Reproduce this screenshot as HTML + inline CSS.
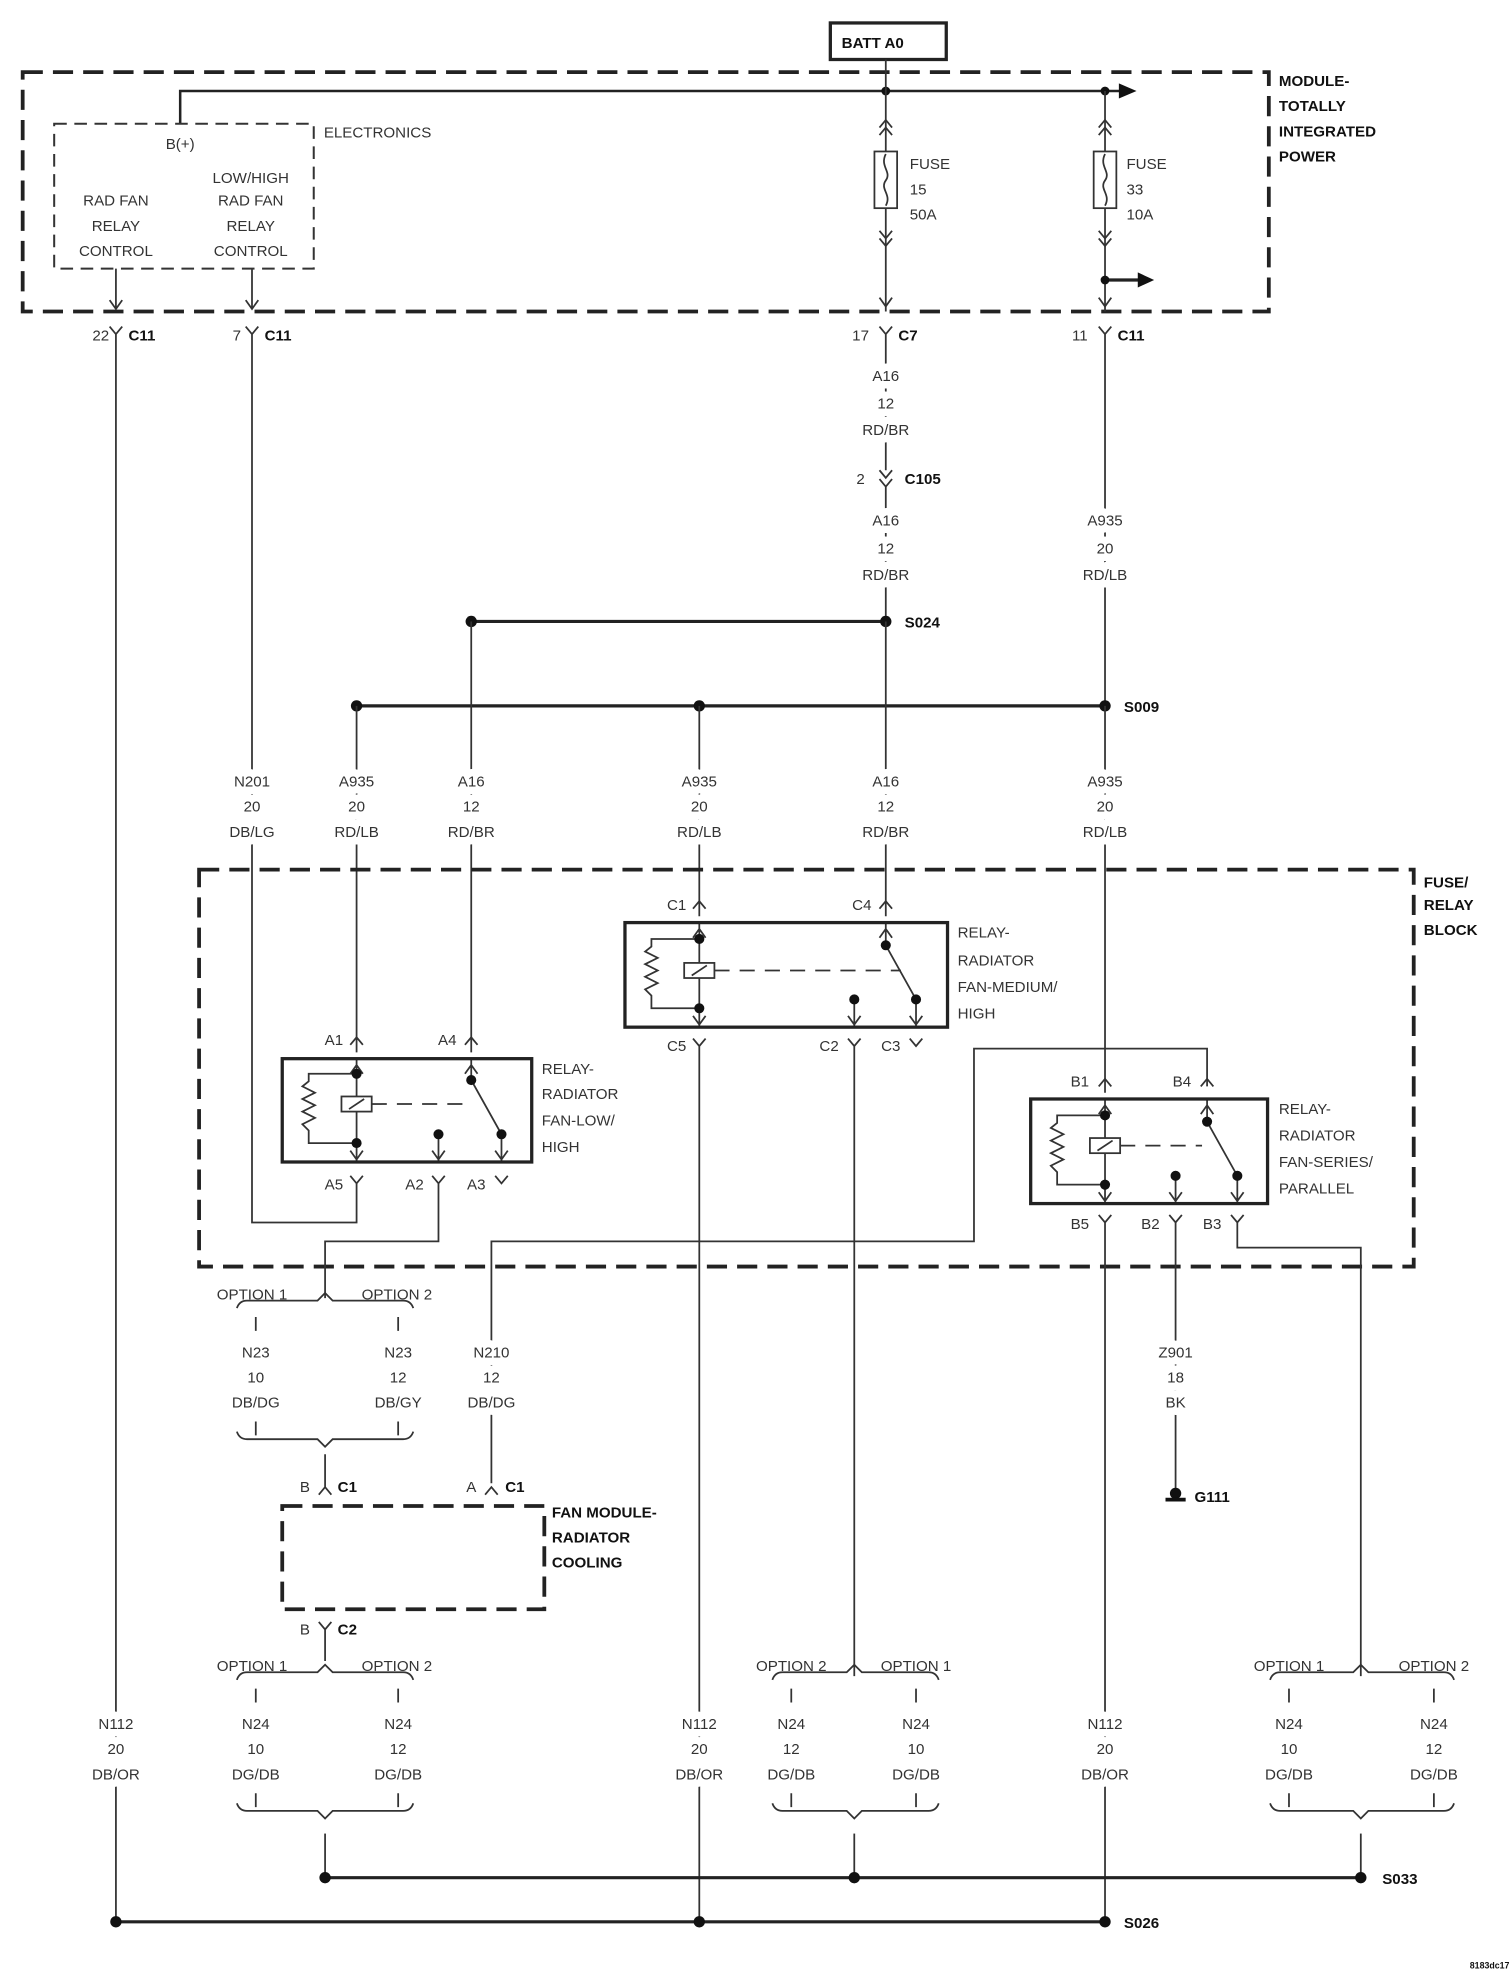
<!DOCTYPE html>
<html><head><meta charset="utf-8"><style>
html,body{margin:0;padding:0;background:#fff}
svg{display:block}
text{font-family:"Liberation Sans Narrow","Liberation Sans",sans-serif;font-size:12px;fill:#333}
.m{text-anchor:middle}
.h{paint-order:stroke;stroke:#fff;stroke-width:12px;stroke-linejoin:round}
.b{font-family:"Liberation Sans",sans-serif;font-weight:bold;font-size:12px;fill:#111}
.w{stroke:#333;stroke-width:1.4;fill:none}
.k{stroke:#222;stroke-width:3;fill:none}
.d{stroke:#222;stroke-width:3;fill:none;stroke-dasharray:16 8}
.dt{stroke:#333;stroke-width:1.6;fill:none;stroke-dasharray:10 6}
.rb{stroke:#222;stroke-width:2.6;fill:none}
</style></head><body>
<svg width="1512" height="1980" viewBox="0 0 1200 1571" xmlns="http://www.w3.org/2000/svg">
<!-- BATT -->
<rect x="659" y="18" width="92" height="29" class="rb"/>
<text x="668" y="38" class="b">BATT A0</text>
<!-- Module box -->
<path d="M18 57 H1007 V247 H18 Z" class="d"/>
<text x="1015" y="68" class="b">MODULE-</text>
<text x="1015" y="88" class="b">TOTALLY</text>
<text x="1015" y="108" class="b">INTEGRATED</text>
<text x="1015" y="128" class="b">POWER</text>
<!-- top bus -->
<path d="M143 98 V72 H890" stroke="#222" stroke-width="2" fill="none"/>
<path d="M888 66 L902 72 L888 78 Z" fill="#111"/>
<circle cx="703" cy="72" r="3.5" fill="#111"/><circle cx="877" cy="72" r="3.5" fill="#111"/>
<path d="M703 47 V247" class="w"/>
<path d="M877 72 V247" class="w"/>
<!-- Electronics -->
<rect x="43" y="98" width="206" height="115" class="dt"/>
<text x="257" y="109">ELECTRONICS</text>
<text x="143" y="118" class="m">B(+)</text>
<text x="92" y="163" class="m">RAD FAN</text><text x="92" y="183" class="m">RELAY</text><text x="92" y="203" class="m">CONTROL</text>
<text x="199" y="145" class="m">LOW/HIGH</text><text x="199" y="163" class="m">RAD FAN</text><text x="199" y="183" class="m">RELAY</text><text x="199" y="203" class="m">CONTROL</text>
<path d="M92 213 V245 M87 238 L92 245 L97 238 M200 213 V245 M195 238 L200 245 L205 238" class="w"/>
<!-- fuses -->
<g class="w">
<path d="M698 101 L703 95 L708 101 M698 107 L703 101 L708 107"/>
<rect x="694" y="120" width="18" height="45" fill="#fff"/>
<path d="M703 122 C698 132 708 136 703 143 C698 150 708 154 703 163"/>
<path d="M698 183 L703 189 L708 183 M698 189 L703 195 L708 189"/>
<path d="M698 236 L703 243 L708 236"/>
<path d="M872 101 L877 95 L882 101 M872 107 L877 101 L882 107"/>
<rect x="868" y="120" width="18" height="45" fill="#fff"/>
<path d="M877 122 C872 132 882 136 877 143 C872 150 882 154 877 163"/>
<path d="M872 183 L877 189 L882 183 M872 189 L877 195 L882 189"/>
<path d="M872 236 L877 243 L882 236"/>
</g>
<text x="722" y="134">FUSE</text><text x="722" y="154">15</text><text x="722" y="174">50A</text>
<text x="894" y="134">FUSE</text><text x="894" y="154">33</text><text x="894" y="174">10A</text>
<path d="M877 222 H905" stroke="#222" stroke-width="2.5"/><path d="M903 216 L916 222 L903 228 Z" fill="#111"/>
<circle cx="877" cy="222" r="3.5" fill="#111"/>
<!-- C11 etc connectors -->
<g class="w">
<path d="M87 259 L92 265 L97 259 M92 265 V1525"/>
<path d="M195 259 L200 265 L205 259 M200 265 V970 H283 V945"/>
<path d="M698 259 L703 265 L708 259 M703 265 V373 M698 373 L703 379 L708 373 M698 380 L703 386 L708 380 M703 386 V493"/>
<path d="M872 259 L877 265 L882 259 M877 265 V560"/>
</g>
<text x="80" y="270" class="m">22</text><text x="102" y="270" class="b">C11</text>
<text x="188" y="270" class="m">7</text><text x="210" y="270" class="b">C11</text>
<text x="683" y="270" class="m">17</text><text x="713" y="270" class="b">C7</text>
<text x="857" y="270" class="m">11</text><text x="887" y="270" class="b">C11</text>
<text x="683" y="384" class="m">2</text><text x="718" y="384" class="b">C105</text>
<g class="m h">
<text x="703" y="302">A16</text><text x="703" y="324">12</text><text x="703" y="345">RD/BR</text>
<text x="703" y="417">A16</text><text x="703" y="439">12</text><text x="703" y="460">RD/BR</text>
<text x="877" y="417">A935</text><text x="877" y="439">20</text><text x="877" y="460">RD/LB</text>
</g>
<!-- splices -->
<path d="M374 493 H703" stroke="#222" stroke-width="2.5"/>
<circle cx="374" cy="493" r="4.5" fill="#111"/><circle cx="703" cy="493" r="4.5" fill="#111"/>
<text x="718" y="498" class="b">S024</text>
<path d="M283 560 H877" stroke="#222" stroke-width="2.5"/>
<circle cx="283" cy="560" r="4.5" fill="#111"/><circle cx="555" cy="560" r="4.5" fill="#111"/><circle cx="877" cy="560" r="4.5" fill="#111"/>
<text x="892" y="565" class="b">S009</text>
<g class="w">
<path d="M283 560 V835 M374 493 V835 M555 560 V727 M703 493 V727 M877 560 V867"/>
</g>
<g class="m h">
<text x="200" y="624">N201</text><text x="200" y="644">20</text><text x="200" y="664">DB/LG</text>
<text x="283" y="624">A935</text><text x="283" y="644">20</text><text x="283" y="664">RD/LB</text>
<text x="374" y="624">A16</text><text x="374" y="644">12</text><text x="374" y="664">RD/BR</text>
<text x="555" y="624">A935</text><text x="555" y="644">20</text><text x="555" y="664">RD/LB</text>
<text x="703" y="624">A16</text><text x="703" y="644">12</text><text x="703" y="664">RD/BR</text>
<text x="877" y="624">A935</text><text x="877" y="644">20</text><text x="877" y="664">RD/LB</text>
</g>
<!-- Fuse relay block -->
<path d="M158 690 H1122 V1005 H158 Z" class="d"/>
<text x="1130" y="704" class="b">FUSE/</text><text x="1130" y="722" class="b">RELAY</text><text x="1130" y="742" class="b">BLOCK</text>

<!-- Medium relay -->
<g class="w">
<path d="M550 721 L555 715 L560 721 M698 721 L703 715 L708 721"/>
<path d="M555 732 V815 M550 744 L555 737 L560 744 M550 806 L555 813 L560 806"/>
<path d="M555 745 H517 V751 L512 755 L522 760 L512 765 L522 770 L512 775 L522 780 L512 785 L517 790 V800 H555"/>
<rect x="543" y="764" width="24" height="12" fill="#fff"/><path d="M549 774 L561 766"/>
<path d="M567 770 H715" stroke-dasharray="12 8"/>
<path d="M703 732 V750 L727 793 V815 M698 744 L703 737 L708 744 M722 806 L727 813 L732 806"/>
<path d="M678 793 V815 M673 806 L678 813 L683 806"/>
<path d="M550 824 L555 830 L560 824 M555 830 V1525"/>
<path d="M673 824 L678 830 L683 824 M678 830 V1330"/>
<path d="M722 824 L727 830 L732 824"/>
</g>
<rect x="496" y="732" width="256" height="83" class="rb"/>
<circle cx="555" cy="745" r="4" fill="#111"/><circle cx="555" cy="800" r="4" fill="#111"/>
<circle cx="703" cy="750" r="4" fill="#111"/><circle cx="727" cy="793" r="4" fill="#111"/><circle cx="678" cy="793" r="4" fill="#111"/>
<text x="537" y="722" class="m">C1</text><text x="684" y="722" class="m">C4</text>
<text x="537" y="834" class="m">C5</text><text x="658" y="834" class="m">C2</text><text x="707" y="834" class="m">C3</text>
<text x="760" y="744">RELAY-</text><text x="760" y="766">RADIATOR</text><text x="760" y="787">FAN-MEDIUM/</text><text x="760" y="808">HIGH</text>

<!-- Low/High relay -->
<g class="w">
<path d="M278 829 L283 823 L288 829 M369 829 L374 823 L379 829"/>
<path d="M283 840 V922 M278 852 L283 845 L288 852 M278 913 L283 920 L288 913"/>
<path d="M283 852 H245 V858 L240 862 L250 867 L240 872 L250 877 L240 882 L250 887 L240 892 L245 897 V907 H283"/>
<rect x="271" y="870" width="24" height="12" fill="#fff"/><path d="M277 880 L289 872"/>
<path d="M295 876 H370" stroke-dasharray="12 8"/>
<path d="M374 840 V857 L398 900 V922 M369 852 L374 845 L379 852 M393 913 L398 920 L403 913"/>
<path d="M348 900 V922 M343 913 L348 920 L353 913"/>
<path d="M278 933 L283 939 L288 933 M283 939 V945"/>
<path d="M343 933 L348 939 L353 933 M348 939 V985 H258 V1030"/>
<path d="M393 933 L398 939 L403 933"/>
</g>
<rect x="224" y="840" width="198" height="82" class="rb"/>
<circle cx="283" cy="852" r="4" fill="#111"/><circle cx="283" cy="907" r="4" fill="#111"/>
<circle cx="374" cy="857" r="4" fill="#111"/><circle cx="398" cy="900" r="4" fill="#111"/><circle cx="348" cy="900" r="4" fill="#111"/>
<text x="265" y="829" class="m">A1</text><text x="355" y="829" class="m">A4</text>
<text x="265" y="944" class="m">A5</text><text x="329" y="944" class="m">A2</text><text x="378" y="944" class="m">A3</text>
<text x="430" y="852">RELAY-</text><text x="430" y="872">RADIATOR</text><text x="430" y="893">FAN-LOW/</text><text x="430" y="914">HIGH</text>

<!-- Series relay -->
<g class="w">
<path d="M872 862 L877 856 L882 862 M953 862 L958 856 L963 862"/>
<path d="M958 862 V832 H773 V985 H390 V1177"/>
<path d="M877 872 V955 M872 884 L877 877 L882 884 M872 946 L877 953 L882 946"/>
<path d="M877 885 H839 V891 L834 895 L844 900 L834 905 L844 910 L834 915 L844 920 L834 925 L839 930 V940 H877"/>
<rect x="865" y="903" width="24" height="12" fill="#fff"/><path d="M871 913 L883 905"/>
<path d="M889 909 H954" stroke-dasharray="12 8"/>
<path d="M958 872 V890 L982 933 V955 M953 884 L958 877 L963 884 M977 946 L982 953 L987 946"/>
<path d="M933 933 V955 M928 946 L933 953 L938 946"/>
<path d="M872 964 L877 970 L882 964 M877 970 V1525"/>
<path d="M928 964 L933 970 L938 964 M933 970 V1185"/>
<path d="M977 964 L982 970 L987 964 M982 970 V990 H1080 V1330"/>
</g>
<rect x="818" y="872" width="188" height="83" class="rb"/>
<circle cx="877" cy="885" r="4" fill="#111"/><circle cx="877" cy="940" r="4" fill="#111"/>
<circle cx="958" cy="890" r="4" fill="#111"/><circle cx="982" cy="933" r="4" fill="#111"/><circle cx="933" cy="933" r="4" fill="#111"/>
<text x="857" y="862" class="m">B1</text><text x="938" y="862" class="m">B4</text>
<text x="857" y="975" class="m">B5</text><text x="913" y="975" class="m">B2</text><text x="962" y="975" class="m">B3</text>
<text x="1015" y="884">RELAY-</text><text x="1015" y="905">RADIATOR</text><text x="1015" y="926">FAN-SERIES/</text><text x="1015" y="947">PARALLEL</text>

<!-- Option group N23 -->
<g class="w">
<path d="M188 1038 Q190 1032 196 1032 H252 L258 1026 L264 1032 H320 Q326 1032 328 1038"/>
<path d="M203 1045 V1056 M316 1045 V1056 M203 1128 V1139 M316 1128 V1139"/>
<path d="M188 1136 Q190 1142 196 1142 H252 L258 1148 L264 1142 H320 Q326 1142 328 1136"/>
<path d="M258 1154 V1180 M253 1186 L258 1180 L263 1186"/>
<path d="M385 1186 L390 1180 L395 1186"/>
</g>
<text x="200" y="1031" class="m">OPTION 1</text><text x="315" y="1031" class="m">OPTION 2</text>
<g class="m h">
<text x="203" y="1077">N23</text><text x="203" y="1097">10</text><text x="203" y="1117">DB/DG</text>
<text x="316" y="1077">N23</text><text x="316" y="1097">12</text><text x="316" y="1117">DB/GY</text>
<text x="390" y="1077">N210</text><text x="390" y="1097">12</text><text x="390" y="1117">DB/DG</text>
</g>
<text x="242" y="1184" class="m">B</text><text x="268" y="1184" class="b">C1</text>
<text x="374" y="1184" class="m">A</text><text x="401" y="1184" class="b">C1</text>
<!-- fan module -->
<path d="M224 1195 H432 V1277 H224 Z" class="d" stroke-width="2.5"/>
<text x="438" y="1204" class="b">FAN MODULE-</text><text x="438" y="1224" class="b">RADIATOR</text><text x="438" y="1244" class="b">COOLING</text>
<g class="w">
<path d="M253 1287 L258 1293 L263 1287 M258 1293 V1318"/>
<path d="M188 1333 Q190 1327 196 1327 H252 L258 1321 L264 1327 H320 Q326 1327 328 1333"/>
<path d="M203 1340 V1351 M316 1340 V1351 M203 1423 V1434 M316 1423 V1434"/>
<path d="M188 1431 Q190 1437 196 1437 H252 L258 1443 L264 1437 H320 Q326 1437 328 1431"/>
<path d="M258 1455 V1490"/>
<path d="M613 1333 Q615 1327 621 1327 H672 L678 1321 L684 1327 H737 Q743 1327 745 1333"/>
<path d="M628 1340 V1351 M727 1340 V1351 M628 1423 V1434 M727 1423 V1434"/>
<path d="M613 1431 Q615 1437 621 1437 H672 L678 1443 L684 1437 H737 Q743 1437 745 1431"/>
<path d="M678 1455 V1490"/>
<path d="M1008 1333 Q1010 1327 1016 1327 H1074 L1080 1321 L1086 1327 H1146 Q1152 1327 1154 1333"/>
<path d="M1023 1340 V1351 M1138 1340 V1351 M1023 1423 V1434 M1138 1423 V1434"/>
<path d="M1008 1431 Q1010 1437 1016 1437 H1074 L1080 1443 L1086 1437 H1146 Q1152 1437 1154 1431"/>
<path d="M1080 1455 V1490"/>
</g>
<text x="242" y="1297" class="m">B</text><text x="268" y="1297" class="b">C2</text>
<text x="200" y="1326" class="m">OPTION 1</text><text x="315" y="1326" class="m">OPTION 2</text>
<text x="628" y="1326" class="m">OPTION 2</text><text x="727" y="1326" class="m">OPTION 1</text>
<text x="1023" y="1326" class="m">OPTION 1</text><text x="1138" y="1326" class="m">OPTION 2</text>
<g class="m h">
<text x="203" y="1372">N24</text><text x="203" y="1392">10</text><text x="203" y="1412">DG/DB</text>
<text x="316" y="1372">N24</text><text x="316" y="1392">12</text><text x="316" y="1412">DG/DB</text>
<text x="628" y="1372">N24</text><text x="628" y="1392">12</text><text x="628" y="1412">DG/DB</text>
<text x="727" y="1372">N24</text><text x="727" y="1392">10</text><text x="727" y="1412">DG/DB</text>
<text x="1023" y="1372">N24</text><text x="1023" y="1392">10</text><text x="1023" y="1412">DG/DB</text>
<text x="1138" y="1372">N24</text><text x="1138" y="1392">12</text><text x="1138" y="1412">DG/DB</text>
<text x="92" y="1372">N112</text><text x="92" y="1392">20</text><text x="92" y="1412">DB/OR</text>
<text x="555" y="1372">N112</text><text x="555" y="1392">20</text><text x="555" y="1412">DB/OR</text>
<text x="877" y="1372">N112</text><text x="877" y="1392">20</text><text x="877" y="1412">DB/OR</text>
<text x="933" y="1077">Z901</text><text x="933" y="1097">18</text><text x="933" y="1117">BK</text>
</g>
<!-- ground -->
<circle cx="933" cy="1185" r="4.5" fill="#111"/>
<path d="M925 1190 H941" stroke="#111" stroke-width="3"/>
<text x="948" y="1192" class="b">G111</text>
<!-- S033, S026 -->
<path d="M258 1490 H1080" stroke="#222" stroke-width="2.5"/>
<circle cx="258" cy="1490" r="4.5" fill="#111"/><circle cx="678" cy="1490" r="4.5" fill="#111"/><circle cx="1080" cy="1490" r="4.5" fill="#111"/>
<text x="1097" y="1495" class="b">S033</text>
<path d="M92 1525 H877" stroke="#222" stroke-width="2.5"/>
<circle cx="92" cy="1525" r="4.5" fill="#111"/><circle cx="555" cy="1525" r="4.5" fill="#111"/><circle cx="877" cy="1525" r="4.5" fill="#111"/>
<text x="892" y="1530" class="b">S026</text>
<text x="1198" y="1562" class="b" style="font-size:7px;text-anchor:end">8183dc17</text>
</svg>
</body></html>
